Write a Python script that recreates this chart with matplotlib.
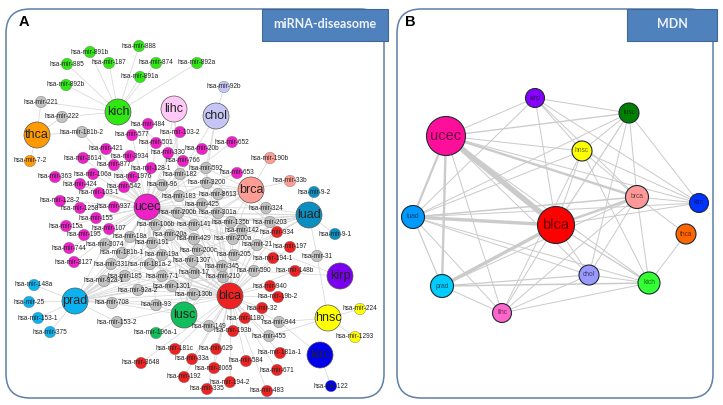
import matplotlib
matplotlib.use('Agg')
import matplotlib.pyplot as plt
from matplotlib.patches import Circle, FancyBboxPatch, Rectangle

plt.rcParams['font.family'] = ['Liberation Sans', 'DejaVu Sans']

# panel A: miRNAs that belong to one disease only
kich_mirs = ['891b', '885', '187', '888', '874', '891a', '892b', '892a']
ucec_mirs = ['484', '577', '103-2', '501', '3934', '330', '20b', '652', '766', '128-1', '421',
             '3614', '877', '1976', '106a', '363', '424', '542', '103-1', '128-2', '1258', '937',
             '155', '15a', '107', '195', '744', '3127', '653']
blca_mirs = ['934', '197', '194-1', '148b', '940', '19b-2', '32', '1180', '193b', '629', '181c',
             '33a', '3065', '584', '181a-1', '671', '194-2', '192', '335', '483', '3648']
prad_mirs = ['148a', '25', '153-1', '375']
brca_mirs = ['190b', '33b']
luad_mirs = ['9-2', '9-1']
hnsc_mirs = ['224', '1293']
kirc_mirs = ['122']
chol_mirs = ['92b']
thca_mirs = ['7-2']
lusc_mirs = ['196a-1']

# panel A: miRNAs shared by several diseases (grey nodes)
shared_mirs = {
    '221': ['kich', 'thca'],
    '222': ['kich', 'thca'],
    '181b-2': ['thca', 'ucec'],
    '96': ['ucec', 'blca', 'lihc', 'brca'],
    '182': ['ucec', 'blca', 'lihc', 'chol'],
    '592': ['ucec', 'brca', 'blca', 'chol'],
    '183': ['ucec', 'blca', 'brca', 'lihc'],
    '3200': ['ucec', 'brca', 'blca'],
    '8613': ['ucec', 'brca', 'blca'],
    '425': ['ucec', 'brca', 'blca', 'chol'],
    '200b': ['ucec', 'blca', 'brca', 'luad'],
    '301a': ['ucec', 'blca', 'luad', 'brca'],
    '324': ['brca', 'luad', 'blca', 'ucec'],
    '106b': ['ucec', 'blca', 'prad', 'luad'],
    '141': ['ucec', 'blca', 'brca', 'luad', 'prad'],
    '135b': ['ucec', 'blca', 'luad', 'brca'],
    '203': ['luad', 'blca', 'ucec', 'brca', 'kich'],
    '142': ['ucec', 'blca', 'luad'],
    '18a': ['ucec', 'blca', 'prad'],
    '20a': ['ucec', 'blca', 'prad', 'lusc'],
    '191': ['ucec', 'blca', 'prad'],
    '3074': ['ucec', 'prad', 'blca'],
    '429': ['ucec', 'blca', 'lusc', 'luad'],
    '200a': ['ucec', 'blca', 'luad', 'brca'],
    '21': ['blca', 'luad', 'ucec', 'kirp'],
    '200c': ['ucec', 'blca', 'lusc', 'luad'],
    '205': ['ucec', 'blca', 'lusc', 'luad'],
    '181b-1': ['ucec', 'blca', 'prad'],
    '19a': ['ucec', 'blca', 'prad'],
    '331': ['ucec', 'prad', 'blca'],
    '181a-2': ['ucec', 'blca', 'prad'],
    '1307': ['ucec', 'blca', 'lusc', 'prad'],
    '345': ['ucec', 'blca', 'luad'],
    '31': ['luad', 'hnsc'],
    '590': ['blca', 'ucec', 'kirp'],
    '17': ['ucec', 'blca', 'prad', 'lusc'],
    '210': ['ucec', 'blca', 'prad', 'lusc'],
    '7-1': ['ucec', 'blca', 'prad'],
    '185': ['ucec', 'prad', 'blca'],
    '92a-1': ['prad', 'ucec', 'blca'],
    '1301': ['prad', 'blca', 'ucec'],
    '92a-2': ['prad', 'blca', 'ucec'],
    '130b': ['ucec', 'blca', 'prad'],
    '708': ['prad', 'blca', 'lusc'],
    '93': ['prad', 'blca', 'ucec', 'lusc'],
    '153-2': ['prad', 'blca'],
    '944': ['blca', 'hnsc', 'kirc'],
    '149': ['blca', 'lusc'],
    '455': ['blca', 'hnsc'],
}

hub_colors = {'kich': '#2fe812', 'thca': '#ff9a00', 'lihc': '#ffc8f6', 'chol': '#c6c6f6',
              'ucec': '#ee20c8', 'brca': '#ff9c94', 'luad': '#0a8fc0', 'kirp': '#7a00f0',
              'prad': '#0ab2f0', 'lusc': '#10bf5c', 'blca': '#ee2222', 'hnsc': '#ffff00',
              'kirc': '#0000ee'}
hub_mirs = {'kich': kich_mirs, 'ucec': ucec_mirs, 'blca': blca_mirs, 'prad': prad_mirs,
            'brca': brca_mirs, 'luad': luad_mirs, 'hnsc': hnsc_mirs, 'kirc': kirc_mirs,
            'chol': chol_mirs, 'thca': thca_mirs, 'lusc': lusc_mirs}

# panel B: disease network, (disease, disease, edge weight)
mdn_edges = [
    ('ucec', 'blca', 5.5), ('ucec', 'luad', 2.2), ('ucec', 'prad', 2.4), ('ucec', 'brca', 2.4),
    ('ucec', 'lihc', 1.0), ('ucec', 'kirp', 1.0), ('ucec', 'lusc', 1.3), ('ucec', 'hnsc', 1.0),
    ('ucec', 'kirc', 1.0), ('ucec', 'kich', 1.0), ('ucec', 'chol', 1.0),
    ('blca', 'luad', 3.4), ('blca', 'prad', 3.4), ('blca', 'brca', 2.4), ('blca', 'kich', 1.3),
    ('blca', 'chol', 1.0), ('blca', 'kirp', 1.0), ('blca', 'lusc', 1.2), ('blca', 'hnsc', 1.0),
    ('blca', 'lihc', 1.0), ('blca', 'kirc', 1.0),
    ('luad', 'brca', 1.5), ('luad', 'kirc', 1.0), ('luad', 'chol', 1.0), ('luad', 'kich', 1.0),
    ('luad', 'prad', 1.2), ('luad', 'lihc', 1.0), ('luad', 'lusc', 1.0), ('luad', 'kirp', 1.0),
    ('luad', 'hnsc', 1.0), ('prad', 'chol', 1.2), ('prad', 'kich', 1.5), ('prad', 'lihc', 1.0),
    ('prad', 'brca', 1.0), ('kich', 'lihc', 1.0), ('kich', 'chol', 1.0), ('kich', 'thca', 1.0),
    ('kich', 'brca', 1.0), ('kich', 'hnsc', 1.0), ('chol', 'lihc', 1.0), ('chol', 'brca', 1.0),
    ('chol', 'lusc', 1.0), ('brca', 'lusc', 1.0), ('brca', 'kirp', 1.0), ('brca', 'hnsc', 1.0),
    ('brca', 'kirc', 1.0), ('brca', 'thca', 1.0), ('brca', 'lihc', 1.0), ('lusc', 'kirc', 1.0),
    ('lusc', 'kirp', 1.0), ('lusc', 'hnsc', 1.0), ('kirp', 'kirc', 1.0), ('kirp', 'hnsc', 1.0),
    ('hnsc', 'kirc', 1.0), ('hnsc', 'lihc', 1.0),
]
mdn_colors = {'ucec': '#ff0d9b', 'kirp': '#8800ff', 'lusc': '#008000', 'hnsc': '#ffff00',
              'brca': '#ff9999', 'kirc': '#0033ff', 'luad': '#0099ff', 'blca': '#ff0000',
              'thca': '#ff6600', 'chol': '#9999ff', 'kich': '#33ff33', 'prad': '#00ccff',
              'lihc': '#ff66cc'}

# layouts, in pixels
hub_xy = {'kich': (118, 112), 'thca': (37, 135), 'lihc': (174, 109), 'chol': (216, 116),
          'ucec': (147, 207), 'brca': (251, 190), 'luad': (309, 215), 'kirp': (340, 276),
          'prad': (75, 301), 'lusc': (184, 315), 'blca': (230, 296), 'hnsc': (328, 318),
          'kirc': (320, 355)}
mir_xy = {
    '891b': (90, 52), '885': (67, 64), '187': (109, 63), '888': (139, 46), '874': (156, 63),
    '891a': (140, 77), '892b': (66, 85), '892a': (197, 63), '92b': (224, 87), '7-2': (30, 161),
    '221': (41, 102), '222': (62, 117), '181b-2': (82, 132),
    '484': (148, 124), '577': (132, 135), '103-2': (180, 132), '501': (156, 143),
    '3934': (130, 156), '330': (168, 153), '20b': (202, 149), '652': (232, 142),
    '766': (183, 161), '128-1': (151, 168), '421': (106, 149), '3614': (83, 158),
    '877': (114, 165), '1976': (133, 177), '106a': (93, 174), '363': (55, 177), '424': (80, 184),
    '542': (124, 187), '103-1': (99, 193), '128-2': (60, 201), '1258': (80, 208),
    '937': (114, 207), '155': (96, 218), '15a': (66, 226), '107': (109, 229), '195': (84, 235),
    '744': (69, 248), '3127': (74, 262), '653': (237, 173),
    '96': (162, 185), '182': (180, 174), '592': (206, 168), '183': (179, 196),
    '3200': (207, 183), '8613': (218, 194), '425': (202, 204), '200b': (178, 213),
    '301a': (218, 213), '324': (266, 208), '106b': (156, 225), '141': (194, 225),
    '135b': (231, 222), '203': (270, 222), '142': (242, 230), '18a': (130, 237),
    '20a': (170, 235), '191': (152, 243), '3074': (105, 244), '429': (194, 239),
    '200a': (233, 239), '21': (257, 245), '200c': (198, 250), '205': (234, 255),
    '181b-1': (122, 253), '19a': (162, 255), '331': (111, 264), '181a-2': (150, 264),
    '1307': (192, 261), '345': (222, 266), '31': (317, 256), '590': (254, 271), '17': (194, 273),
    '210': (223, 277), '7-1': (162, 276), '185': (125, 276), '92a-1': (104, 281),
    '1301': (172, 286), '92a-2': (138, 290), '130b': (194, 294), '708': (112, 303),
    '93': (156, 305), '153-2': (117, 322), '944': (279, 322), '149': (209, 326), '455': (269, 336),
    '934': (277, 232), '197': (290, 247), '194-1': (273, 258), '148b': (295, 271),
    '940': (270, 286), '19b-2': (278, 297), '32': (262, 308), '1180': (245, 318),
    '193b': (233, 331), '629': (216, 349), '181c': (175, 349), '33a': (192, 359),
    '3065': (214, 368), '584': (246, 361), '181a-1': (280, 353), '671': (277, 370),
    '194-2': (230, 382), '192': (184, 377), '335': (207, 389), '483': (267, 391),
    '3648': (141, 363), '196a-1': (156, 333),
    '148a': (34, 285), '25': (29, 302), '153-1': (38, 318), '375': (50, 332),
    '190b': (270, 158), '33b': (290, 181), '9-2': (314, 192), '9-1': (335, 234),
    '224': (360, 309), '1293': (355, 337), '122': (331, 386),
}
mdn_xy = {'ucec': (446, 136), 'kirp': (535, 98), 'lusc': (629, 113), 'hnsc': (582, 151),
          'brca': (637, 197), 'kirc': (699, 203), 'luad': (413, 217), 'blca': (556, 225),
          'thca': (686, 234), 'chol': (589, 275), 'kich': (649, 283), 'prad': (442, 286),
          'lihc': (502, 313)}
mdn_radius = {'ucec': 19.5, 'kirp': 9.5, 'lusc': 10, 'hnsc': 10, 'brca': 11.5, 'kirc': 9.5,
              'luad': 11.5, 'blca': 18.5, 'thca': 10, 'chol': 10, 'kich': 11, 'prad': 11.5,
              'lihc': 9.5}

fig = plt.figure(figsize=(7.23, 4.05), dpi=100)
ax = fig.add_axes([0, 0, 1, 1])
ax.set_xlim(0, 723)
ax.set_ylim(405, 0)
ax.axis('off')


def edge(p, q, lw, color):
    ax.plot([p[0], q[0]], [p[1], q[1]], color=color, lw=lw, zorder=2, solid_capstyle='round')


def node(p, r, color, edgecolor, lw=0.6):
    ax.add_patch(Circle(p, r, facecolor=color, edgecolor=edgecolor, lw=lw, zorder=3))


# panel frames
for x0, x1 in [(6, 384), (397, 713)]:
    ax.add_patch(FancyBboxPatch((x0 + 24, 9 + 24), x1 - x0 - 48, 389 - 48,
                                boxstyle='round,pad=24,rounding_size=24',
                                facecolor='white', edgecolor='#5f7ea8', lw=1.1, zorder=1))

# title boxes
for x0, x1, title in [(262, 388, 'miRNA-diseasome'), (627, 717, 'MDN')]:
    ax.add_patch(Rectangle((x0, 9), x1 - x0, 32, facecolor='#4f81bd', edgecolor='#3f6897',
                           lw=0.8, zorder=6))
    ax.text((x0 + x1) / 2, 24.5, title, color='#eef3fa', fontsize=9, fontweight='bold',
            family='Lato', ha='center', va='center', zorder=7)
ax.text(23.5, 22, 'A', fontsize=10.5, fontweight='bold', ha='center', va='center', zorder=7)
ax.text(410, 22, 'B', fontsize=10.5, fontweight='bold', ha='center', va='center', zorder=7)

# panel A
for hub, mirs in hub_mirs.items():
    for m in mirs:
        edge(hub_xy[hub], mir_xy[m], 0.55, '#d8d8d8')
for m, hubs in shared_mirs.items():
    for hub in hubs:
        edge(hub_xy[hub], mir_xy[m], 0.55, '#d8d8d8')

for hub, mirs in hub_mirs.items():
    for m in mirs:
        node(mir_xy[m], 5.7, hub_colors[hub], '#777777', 0.3)
        ax.text(mir_xy[m][0], mir_xy[m][1], 'hsa-mir-' + m, fontsize=4.7, color='#222222',
                ha='center', va='center', zorder=4)
for m in shared_mirs:
    node(mir_xy[m], 5.7, '#c2c2c2', '#8a8a8a', 0.4)
    ax.text(mir_xy[m][0], mir_xy[m][1], 'hsa-mir-' + m, fontsize=4.7, color='#222222',
            ha='center', va='center', zorder=4)
for hub, p in hub_xy.items():
    node(p, 13, hub_colors[hub], '#555555', 0.5)
    ax.text(p[0], p[1], hub, fontsize=9, color='#222222', ha='center', va='center', zorder=4)

# panel B
for a, b, w in mdn_edges:
    edge(mdn_xy[a], mdn_xy[b], w * 0.72, '#cbcbcb')
for d, p in mdn_xy.items():
    r = mdn_radius[d]
    node(p, r, mdn_colors[d], '#1c2a33', 0.8)
    fs = 10.5 if r > 15 else 4.8
    ax.text(p[0], p[1], d, fontsize=fs, color='#000000', alpha=0.6, ha='center', va='center',
            zorder=4)

fig.savefig('out.png', dpi=100)
